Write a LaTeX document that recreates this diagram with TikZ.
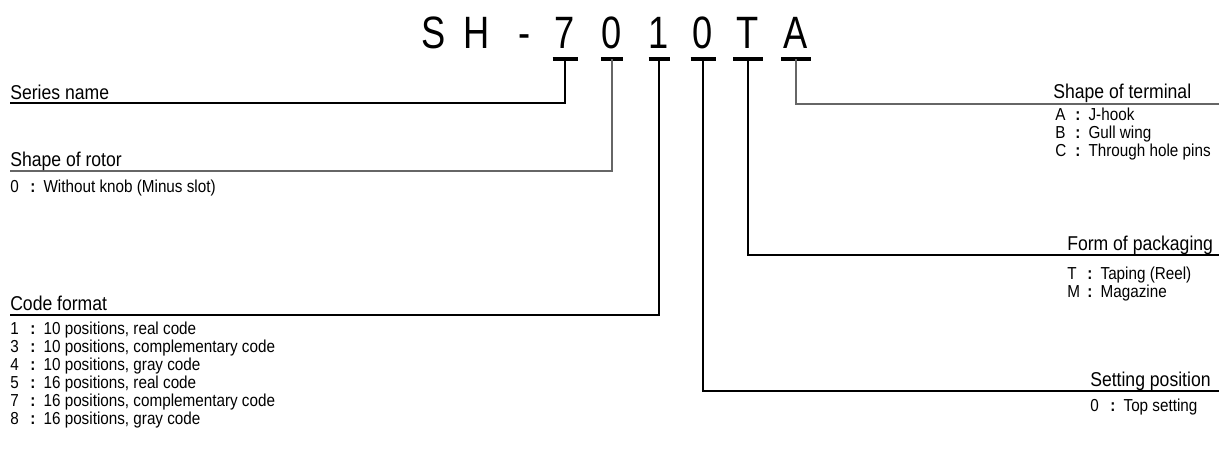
\documentclass[tikz,border=0pt]{standalone}
\usepackage{fontspec}
\setmainfont[FakeStretch=0.88]{Liberation Sans}
\newfontfamily\codefont[FakeStretch=0.8]{Liberation Sans}
\usepackage{tikz}

\newcommand{\opt}[2]{\makebox[15pt][l]{#1}\makebox[10pt][l]{\textbf{:}}#2}

\begin{document}
\begin{tikzpicture}[x=0.75pt,y=0.75pt,yscale=-1,xscale=1,
  code/.style={anchor=base,inner sep=0pt,font=\codefont\fontsize{34}{40}\selectfont},
  head/.style={anchor=base west,inner sep=0pt,font=\fontsize{15}{18}\selectfont},
  item/.style={anchor=base west,inner sep=0pt,font=\fontsize{13}{16}\selectfont},
  bar/.style={line width=3pt},
  lead/.style={line width=0.8pt},
  leadg/.style={line width=1pt,black!60}]
\useasboundingbox (0,0) rectangle (1229,457);

% Part number
\node[code] (cS) at (434,48) {S};
\node[code] (cH) at (477,48) {H};
\node[code] (cD) at (525,48) {-};
\node[code] (c7) at (565,48) {7};
\node[code] (cRot) at (612,48) {0};
\node[code] (c1) at (659,48) {1};
\node[code] (cSet) at (703,48) {0};
\node[code] (cT) at (748,48) {T};
\node[code] (cA) at (796,48) {A};
\coordinate (u) at (0,59);

% Underline bars
\foreach \c/\w in {c7/12.5,cRot/11,c1/10.5,cSet/12.5,cT/15,cA/15}
  \draw[bar] (\c |- u) ++(-\w,0) -- ++(2*\w,0);

% Line ends
\coordinate (lSeries) at (10,103);
\coordinate (lRotor) at (10,171);
\coordinate (lCode) at (10,315);
\coordinate (lTerm) at (1219,104);
\coordinate (lPack) at (1219,255);
\coordinate (lSet) at (1219,391);

% Connection
\draw[lead] (c7 |- u) |- (lSeries);
\draw[leadg] (cRot |- u) |- (lRotor);
\draw[lead] (c1 |- u) |- (lCode);
\draw[lead] (cSet |- u) |- (lSet);
\draw[lead] (cT |- u) |- (lPack);
\draw[leadg] (cA |- u) |- (lTerm);

% Text Node
\node[head] (hSeries) at (10,99) {Series name};
\node[head] (hRotor) at (10,166) {Shape of rotor};
\node[item] (oRotor) at (10,192) {\opt{0}{Without knob (Minus slot)}};
\node[head] (hCode) at (10,310) {Code format};
\foreach \k/\t [count=\i] in {1/{10 positions, real code},3/{10 positions, complementary code},4/{10 positions, gray code},5/{16 positions, real code},7/{16 positions, complementary code},8/{16 positions, gray code}}
  \node[item] (oCode\i) at (10,{334+18*(\i-1)}) {\opt{\k}{\t}};

% Text Node
\node[head] (hTerm) at (1053,98) {Shape of terminal};
\node[item] (oA) at (1055,120) {\opt{A}{J-hook}};
\node[item] (oB) at (1055,138) {\opt{B}{Gull wing}};
\node[item] (oC) at (1055,156) {\opt{C}{Through hole pins}};
\node[head] (hPack) at (1067,250) {Form of packaging};
\node[item] (oT) at (1067,279) {\opt{T}{Taping (Reel)}};
\node[item] (oM) at (1067,297) {\opt{M}{Magazine}};
\node[head] (hSet) at (1090,386) {Setting position};
\node[item] (oSet) at (1090,411) {\opt{0}{Top setting}};

\end{tikzpicture}
\end{document}
